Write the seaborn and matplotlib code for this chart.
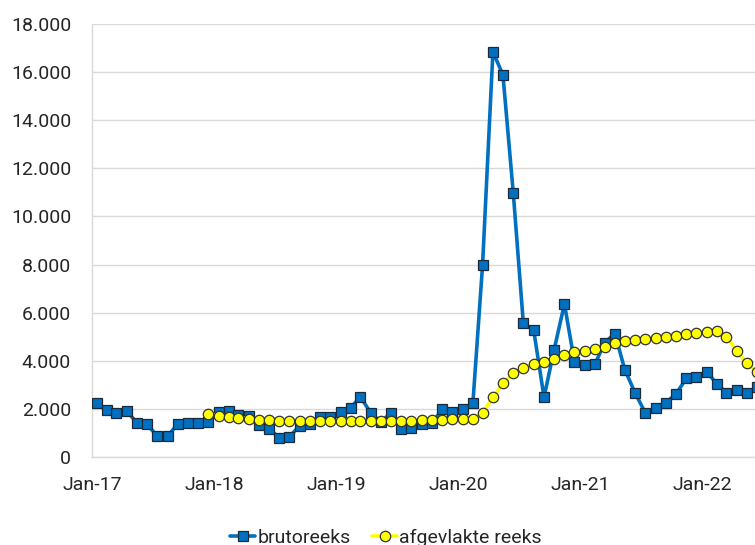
import matplotlib
matplotlib.use('Agg')
import pandas as pd
import numpy as np
import matplotlib.pyplot as plt
import matplotlib.dates as mdates
from matplotlib.ticker import FuncFormatter
import seaborn as sns

sns.set_style("white")
plt.rcParams['font.family'] = ['Roboto', 'DejaVu Sans']

# ==================== 数据 ====================
bruto_start = "2017-01-01"
brutoreeks = [
    2230, 1950, 1840, 1910, 1430, 1360, 870, 870, 1370, 1400, 1430, 1460,
    1880, 1910, 1750, 1700, 1330, 1170, 810, 850, 1300, 1370, 1670, 1650,
    1860, 2050, 2510, 1840, 1450, 1840, 1150, 1220, 1370, 1400, 1980, 1860,
    2010, 2230, 7980, 16850, 15880, 10960, 5560, 5280, 2480, 4450, 6360, 3960,
    3820, 3870, 4750, 5130, 3620, 2650, 1840, 2020, 2260, 2620, 3270, 3310,
    3550, 3020, 2670, 2790, 2650, 2900,
]
afgevlakt_start = "2017-12-01"
afgevlakte_reeks = [
    1800,
    1720, 1680, 1640, 1600, 1540, 1520, 1510, 1500, 1500, 1500, 1490, 1490,
    1490, 1490, 1500, 1500, 1500, 1510, 1510, 1510, 1520, 1530, 1540, 1565,
    1565, 1595, 1840, 2480, 3060, 3480, 3690, 3870, 3940, 4060, 4240, 4350,
    4420, 4500, 4590, 4730, 4840, 4860, 4890, 4930, 4970, 5040, 5100, 5140,
    5210, 5240, 5000, 4420, 3890, 3550,
]
tick_years = [2017, 2018, 2019, 2020, 2021, 2022]
labels = ["brutoreeks", "afgevlakte reeks"]

# 点放在每月中旬
bruto = pd.DataFrame({
    "date": pd.date_range(bruto_start, periods=len(brutoreeks), freq="MS") + pd.Timedelta(days=14),
    "value": brutoreeks,
})
glad = pd.DataFrame({
    "date": pd.date_range(afgevlakt_start, periods=len(afgevlakte_reeks), freq="MS") + pd.Timedelta(days=14),
    "value": afgevlakte_reeks,
})

# ==================== 绘图 ====================
fig = plt.figure(figsize=(7.55, 5.45), dpi=100)
ax = fig.add_axes([92 / 755, 88 / 545, 1 - 92 / 755, 433 / 545])

sns.lineplot(data=bruto, x="date", y="value", ax=ax, color="#0070C0", linewidth=2.6,
             marker="s", markersize=7.5, markerfacecolor="#0070C0",
             markeredgecolor="#1a2a3a", markeredgewidth=0.9, label=labels[0], zorder=3)
sns.lineplot(data=glad, x="date", y="value", ax=ax, color="#FFFF00", linewidth=2.6,
             marker="o", markersize=7.5, markerfacecolor="#FFFF00",
             markeredgecolor="#333333", markeredgewidth=0.9, label=labels[1], zorder=4)

ax.set_ylim(0, 18000)
ax.set_yticks(np.arange(0, 18001, 2000))
ax.yaxis.set_major_formatter(FuncFormatter(lambda v, p: f"{v:,.0f}".replace(",", ".")))
ax.grid(axis="y", color="#d9d9d9", linewidth=1)

x0 = mdates.date2num(pd.Timestamp("2017-01-01"))
x1 = x0 + (755 - 92) / 10.17 * 30.44
ax.set_xlim(x0, x1)
ax.set_xticks([mdates.date2num(pd.Timestamp(f"{y}-01-01")) for y in tick_years])
ax.set_xticklabels([f"Jan-{str(y)[2:]}" for y in tick_years])

for s in ["top", "right"]:
    ax.spines[s].set_visible(False)
for s in ["left", "bottom"]:
    ax.spines[s].set_color("#d9d9d9")
    ax.spines[s].set_linewidth(1)
ax.tick_params(axis="x", direction="out", length=6, color="#d9d9d9", labelsize=14, pad=8)
ax.tick_params(axis="y", length=0, labelsize=14, pad=15)
ax.set_xlabel("")
ax.set_ylabel("")

ax.legend(loc="center", bbox_to_anchor=(386 / 755, 1 - 538 / 545), bbox_transform=fig.transFigure,
          ncol=2, frameon=False, fontsize=14, handlelength=1.3, handletextpad=0.1, columnspacing=1.1)

plt.savefig("out.png", dpi=100)
plt.close()
